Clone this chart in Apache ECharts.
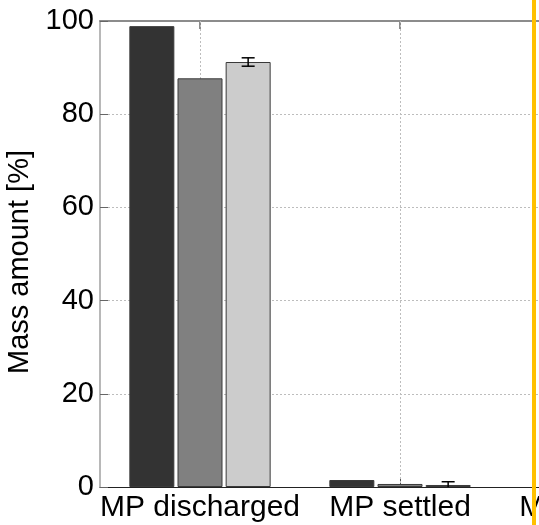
<!DOCTYPE html>
<html>
<head>
<meta charset="utf-8">
<script src="https://cdn.jsdelivr.net/npm/echarts@6/dist/echarts.min.js"></script>
<style>html,body{margin:0;padding:0;background:#fff}#c{width:539px;height:525px}</style>
</head>
<body>
<div id="c"></div>
<script>
const categories = ['MP discharged', 'MP settled', 'MP retained'];
const yTicks = [0, 20, 40, 60, 80, 100];
const seriesA = [98.9, 1.5, null];
const seriesB = [87.7, 0.65, null];
const seriesC = [91.2, 0.43, null];
const errorC = [0.9, 0.7, null];

const FONT = 'Liberation Sans, Arial, sans-serif';
const BAR_W = 45, BAR_GAP = 0.07;

const chart = echarts.init(document.getElementById('c'));

function errRender(seriesIdx) {
  return function (params, api) {
    const cat = api.value(0), v = api.value(1), e = api.value(2);
    if (v == null || isNaN(v) || e == null || isNaN(e)) return;
    const off = (seriesIdx - 1) * BAR_W * (1 + BAR_GAP);
    const top = api.coord([cat, v + e]);
    const bot = api.coord([cat, v - e]);
    const x = top[0] + off;
    const hw = 6.5;
    const st = { stroke: '#000', lineWidth: 1.5 };
    return {
      type: 'group',
      children: [
        { type: 'line', shape: { x1: x, y1: top[1], x2: x, y2: bot[1] }, style: st },
        { type: 'line', shape: { x1: x - hw, y1: top[1], x2: x + hw, y2: top[1] }, style: st },
        { type: 'line', shape: { x1: x - hw, y1: bot[1], x2: x + hw, y2: bot[1] }, style: st }
      ]
    };
  };
}

const barStyle = (c) => ({ color: c, borderColor: '#3a3a3a', borderWidth: 1 });

chart.setOption({
  animation: false,
  backgroundColor: '#fff',
  textStyle: { fontFamily: FONT },
  grid: { left: 100, top: 21, width: 600, height: 466, containLabel: false, outerBoundsMode: 'none' },
  xAxis: [
    {
      type: 'category', data: categories, position: 'bottom',
      axisLine: { lineStyle: { color: '#222', width: 1 } },
      axisTick: { show: true, inside: true, alignWithLabel: true, length: 8, lineStyle: { color: '#555' } },
      axisLabel: { color: '#000', fontSize: 30, fontFamily: FONT, margin: 6, interval: 0 },
      splitLine: { show: false }
    },
    {
      type: 'category', data: categories, position: 'top',
      axisLine: { show: true, lineStyle: { color: '#8c8c8c', width: 2 } },
      axisTick: { show: true, inside: true, alignWithLabel: true, length: 8, lineStyle: { color: '#8c8c8c', width: 2 } },
      axisLabel: { show: false },
      splitLine: { show: false }
    }
  ],
  yAxis: {
    type: 'value', min: 0, max: 100, interval: 20,
    name: 'Mass amount [%]', nameLocation: 'middle', nameRotate: 90, nameGap: 66,
    nameTextStyle: { color: '#000', fontSize: 29, fontFamily: FONT, padding: [0, 16, 0, 0] },
    axisLine: { show: true, lineStyle: { color: '#a0a0a0', width: 1.5 } },
    axisTick: { show: true, inside: true, length: 8, lineStyle: { color: '#666' } },
    axisLabel: { color: '#000', fontSize: 29, fontFamily: FONT, margin: 6,
      formatter: (v) => yTicks.includes(v) ? String(v) : '' },
    splitLine: { show: true, lineStyle: { color: '#bdbdbd', type: [2, 2], width: 1 } }
  },
  series: [
    {
      type: 'line', data: [], z: 1, silent: true,
      markLine: {
        z: 1, silent: true, symbol: ['none', 'none'], label: { show: false },
        lineStyle: { color: '#bdbdbd', type: [2, 2], width: 1 },
        data: categories.map((c) => ({ xAxis: c }))
      }
    },
    { type: 'bar', name: 'A', data: seriesA, barWidth: BAR_W, barGap: '7%', itemStyle: barStyle('#333333'), z: 2 },
    { type: 'bar', name: 'B', data: seriesB, barWidth: BAR_W, barGap: '7%', itemStyle: barStyle('#808080'), z: 2 },
    { type: 'bar', name: 'C', data: seriesC, barWidth: BAR_W, barGap: '7%', itemStyle: barStyle('#cccccc'), z: 2 },
    {
      type: 'custom', z: 3, clip: true,
      renderItem: errRender(2),
      data: categories.map((c, i) => [i, seriesC[i], errorC[i]])
    }
  ],
  graphic: [
    { type: 'rect', left: 532, top: 0, shape: { width: 4, height: 525 }, style: { fill: '#FFC000' }, z: 100 }
  ]
});
</script>
</body>
</html>
